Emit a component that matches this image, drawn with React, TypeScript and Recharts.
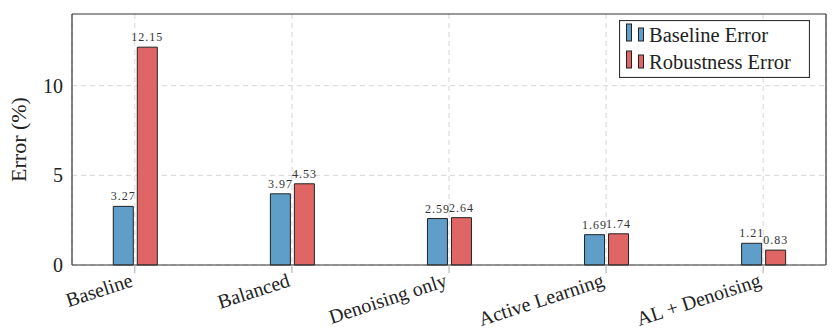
import { BarChart, Bar, XAxis, YAxis, CartesianGrid, LabelList, Legend } from "recharts";

const categories = ["Baseline", "Balanced", "Denoising only", "Active Learning", "AL + Denoising"];
const baselineError = [3.27, 3.97, 2.59, 1.69, 1.21];
const robustnessError = [12.15, 4.53, 2.64, 1.74, 0.83];
const yTicks = [0, 5, 10];
const xTicks = categories.map((_, i) => i);

const data = categories.map((name, i) => ({
  pos: i,
  name,
  baseline: baselineError[i],
  robustness: robustnessError[i],
}));

const FONT = "'Liberation Serif', 'DejaVu Serif', serif";
const BLUE = "#5f9ec9";
const RED = "#e06666";
const FRAME = "#333";
const X_DOMAIN = [-0.4, 4.4];
const Y_DOMAIN = [0, 14];

// rotated category names, right end hanging just left of the tick
const CategoryTick = ({ x, y, payload }: any) => (
  <g transform={`translate(${x - 5},${y})`}>
    <text
      textAnchor="end"
      transform="rotate(-18)"
      dy="0.68em"
      fontSize={20}
      fill="#222"
      fontFamily={FONT}
    >
      {categories[payload.value]}
    </text>
  </g>
);

const YLabel = ({ viewBox }: any) => {
  const cx = viewBox.x + 18;
  const cy = viewBox.y + viewBox.height / 2;
  return (
    <text
      x={cx}
      y={cy}
      transform={`rotate(-90, ${cx}, ${cy})`}
      textAnchor="middle"
      dominantBaseline="central"
      fontSize={22}
      fill="#222"
      fontFamily={FONT}
    >
      Error (%)
    </text>
  );
};

const LegendBox = ({ payload }: any) => (
  <svg width={191} height={58} style={{ display: "block" }}>
    <rect x={0.5} y={0.5} width={190} height={57} fill="#fff" stroke={FRAME} strokeWidth={1.2} />
    {(payload || []).map((p: any, i: number) => (
      <g key={p.value} transform={`translate(7, ${i * 27})`}>
        <rect x={0.5} y={4} width={5} height={17} fill={p.color} stroke="#222" strokeWidth={1} />
        <rect x={12.5} y={8} width={5} height={13} fill={p.color} stroke="#222" strokeWidth={1} />
        <text x={23} y={22} fontSize={20.5} fill="#222" fontFamily={FONT}>
          {p.value}
        </text>
      </g>
    ))}
  </svg>
);

const labelStyle = { fontSize: 12, fill: "#333", fontFamily: FONT, letterSpacing: 1 };

export default function App() {
  return (
    <div style={{ position: "absolute", left: 0, top: 0, width: 832, height: 335, background: "#fff" }}>
      <BarChart
        width={832}
        height={335}
        data={data}
        margin={{ top: 13, right: 6, bottom: 0, left: 0 }}
        barGap={4}
        barSize={20}
      >
        <CartesianGrid
          xAxisId="bottom"
          yAxisId="left"
          stroke="#d6d6d6"
          strokeDasharray="5 4"
          horizontalValues={yTicks}
        />
        <XAxis
          xAxisId="bottom"
          type="number"
          dataKey="pos"
          domain={X_DOMAIN}
          ticks={xTicks}
          interval={0}
          height={70}
          tickSize={8}
          tickMargin={0}
          tickLine={{ stroke: "#aaa" }}
          axisLine={{ stroke: FRAME, strokeWidth: 1.2 }}
          tick={<CategoryTick />}
        />
        <XAxis
          xAxisId="top"
          orientation="top"
          type="number"
          dataKey="pos"
          domain={X_DOMAIN}
          ticks={xTicks}
          interval={0}
          height={1}
          tickSize={9}
          tick={false}
          tickLine={{ stroke: "#aaa" }}
          axisLine={{ stroke: FRAME, strokeWidth: 1.2 }}
        />
        <YAxis
          yAxisId="left"
          domain={Y_DOMAIN}
          ticks={yTicks}
          width={72}
          tickSize={0}
          tickMargin={9}
          tickLine={false}
          axisLine={{ stroke: FRAME, strokeWidth: 1.2 }}
          tick={{ fontSize: 20, fill: "#222", fontFamily: FONT }}
          label={<YLabel />}
        />
        <YAxis
          yAxisId="leftTicks"
          mirror
          domain={Y_DOMAIN}
          ticks={yTicks}
          tick={false}
          tickSize={7}
          tickLine={{ stroke: FRAME }}
          axisLine={false}
        />
        <YAxis
          yAxisId="right"
          orientation="right"
          mirror
          domain={Y_DOMAIN}
          ticks={yTicks}
          tick={false}
          tickSize={7}
          tickLine={{ stroke: FRAME }}
          axisLine={{ stroke: FRAME, strokeWidth: 1.2 }}
        />
        <Legend
          layout="vertical"
          align="center"
          verticalAlign="middle"
          wrapperStyle={{ top: 20, left: 619, width: 191, height: 58 }}
          content={<LegendBox />}
        />
        <Bar
          xAxisId="bottom"
          yAxisId="left"
          dataKey="baseline"
          name="Baseline Error"
          fill={BLUE}
          stroke="#222"
          strokeWidth={1}
          isAnimationActive={false}
        >
          <LabelList dataKey="baseline" position="top" offset={6} style={labelStyle} />
        </Bar>
        <Bar
          xAxisId="bottom"
          yAxisId="left"
          dataKey="robustness"
          name="Robustness Error"
          fill={RED}
          stroke="#222"
          strokeWidth={1}
          isAnimationActive={false}
        >
          <LabelList dataKey="robustness" position="top" offset={6} style={labelStyle} />
        </Bar>
      </BarChart>
    </div>
  );
}
